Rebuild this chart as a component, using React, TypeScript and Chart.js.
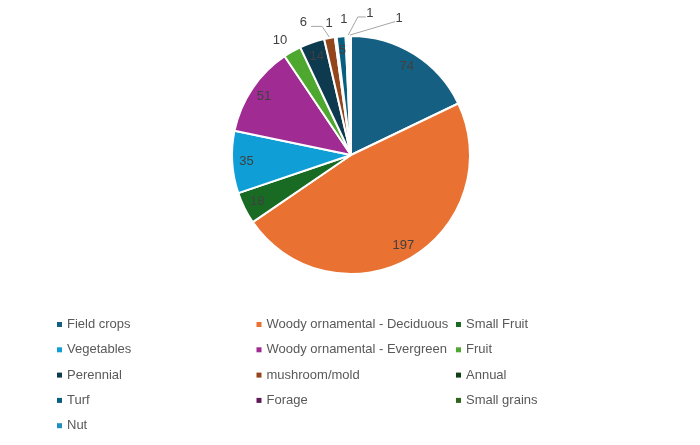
import React, { useEffect, useRef } from "react";
import { Chart, registerables } from "chart.js";

Chart.register(...registerables);

const categories = [
  "Field crops",
  "Woody ornamental - Deciduous",
  "Small Fruit",
  "Vegetables",
  "Woody ornamental - Evergreen",
  "Fruit",
  "Perennial",
  "mushroom/mold",
  "Annual",
  "Turf",
  "Forage",
  "Small grains",
  "Nut",
];

const values = [74, 197, 18, 35, 51, 10, 14, 6, 1, 5, 1, 1, 1];

const sliceColors = [
  "#156082",
  "#E97132",
  "#196B24",
  "#0F9ED5",
  "#A02B93",
  "#4EA72E",
  "#0D3A4E",
  "#93451C",
  "#0F4016",
  "#095F80",
  "#601A58",
  "#2F641C",
  "#1F8EC0",
];

const FONT = '13px "Liberation Sans", Arial, sans-serif';

const valueLabelPlugin = {
  id: "valueLabels",
  afterDatasetsDraw(chart: any, _args: any, opts: any) {
    const meta = chart.getDatasetMeta(0);
    const ds = chart.data.datasets[0];
    const ctx = chart.ctx;
    ctx.save();
    ctx.font = opts.font;
    ctx.textAlign = "center";
    ctx.textBaseline = "middle";
    meta.data.forEach((arc: any, i: number) => {
      const p = arc.getProps(["x", "y", "startAngle", "endAngle", "outerRadius"], true);
      const mid = (p.startAngle + p.endAngle) / 2;
      const text = String(ds.data[i]);
      const o = opts.outside[i];
      let lx: number, ly: number;
      if (o) {
        const a = ((o.angle - 90) * Math.PI) / 180;
        lx = p.x + Math.cos(a) * p.outerRadius * o.r;
        ly = p.y + Math.sin(a) * p.outerRadius * o.r;
        if (o.leader) {
          const w = ctx.measureText(text).width;
          const px = p.x + Math.cos(mid) * (p.outerRadius + 1);
          const py = p.y + Math.sin(mid) * (p.outerRadius + 1);
          const dir = o.leader.side === "right" ? 1 : -1;
          const sx = lx + dir * (w / 2 + o.leader.gap);
          const sy = ly + 3.5;
          ctx.strokeStyle = opts.leaderColor;
          ctx.lineWidth = 1;
          ctx.beginPath();
          ctx.moveTo(sx, sy);
          if (o.leader.elbow) ctx.lineTo(sx + dir * o.leader.elbow, sy);
          ctx.lineTo(px, py);
          ctx.stroke();
        }
      } else {
        lx = p.x + Math.cos(mid) * p.outerRadius * opts.insideR;
        ly = p.y + Math.sin(mid) * p.outerRadius * opts.insideR;
      }
      ctx.fillStyle = opts.color;
      ctx.fillText(text, lx, ly);
    });
    ctx.restore();
  },
};

const gridLegendPlugin = {
  id: "gridLegend",
  afterDraw(chart: any, _args: any, opts: any) {
    const ctx = chart.ctx;
    const colorsArr = chart.data.datasets[0].backgroundColor;
    ctx.save();
    ctx.font = opts.font;
    ctx.textAlign = "left";
    ctx.textBaseline = "middle";
    chart.data.labels.forEach((label: string, i: number) => {
      const col = i % opts.cols;
      const row = Math.floor(i / opts.cols);
      const x = opts.x0 + col * opts.colW;
      const y = opts.y0 + row * opts.rowH;
      ctx.fillStyle = colorsArr[i];
      ctx.fillRect(x, y - opts.box / 2, opts.box, opts.box);
      ctx.fillStyle = opts.color;
      ctx.fillText(label, x + opts.box + opts.gap, y);
    });
    ctx.restore();
  },
};

export default function App() {
  const canvasRef = useRef<HTMLCanvasElement | null>(null);

  useEffect(() => {
    if (!canvasRef.current) return;
    const chart = new Chart(canvasRef.current, {
      type: "pie",
      data: {
        labels: categories,
        datasets: [
          {
            data: values,
            backgroundColor: sliceColors,
            borderColor: "#FFFFFF",
            borderWidth: 2,
          },
        ],
      },
      options: {
        responsive: false,
        animation: false,
        layout: { padding: { top: 35, bottom: 170, left: 231, right: 229 } },
        plugins: {
          legend: { display: false },
          tooltip: { enabled: false },
          valueLabels: {
            font: FONT,
            color: "#404040",
            leaderColor: "#A6A6A6",
            insideR: 0.88,
            outside: {
              5: { angle: 328.3, r: 1.135 },
              7: { angle: 340.2, r: 1.18, leader: { side: "right", gap: 4, elbow: 11 } },
              8: { angle: 350.5, r: 1.12 },
              10: { angle: 357.0, r: 1.14 },
              11: { angle: 7.6, r: 1.2, leader: { side: "left", gap: 0.5, elbow: 8 } },
              12: { angle: 19.4, r: 1.22, leader: { side: "left", gap: 0.5, elbow: 0 } },
            },
          },
          gridLegend: {
            font: FONT,
            color: "#595959",
            cols: 3,
            x0: 57,
            colW: 199.5,
            y0: 324.5,
            rowH: 25.3,
            box: 5,
            gap: 5,
          },
        } as any,
      },
      plugins: [valueLabelPlugin, gridLegendPlugin],
    });
    return () => chart.destroy();
  }, []);

  return (
    <div style={{ position: "absolute", left: 0, top: 0, width: 700, height: 445, background: "#FFFFFF" }}>
      <canvas ref={canvasRef} width={700} height={445} style={{ display: "block", width: 700, height: 445 }} />
    </div>
  );
}
